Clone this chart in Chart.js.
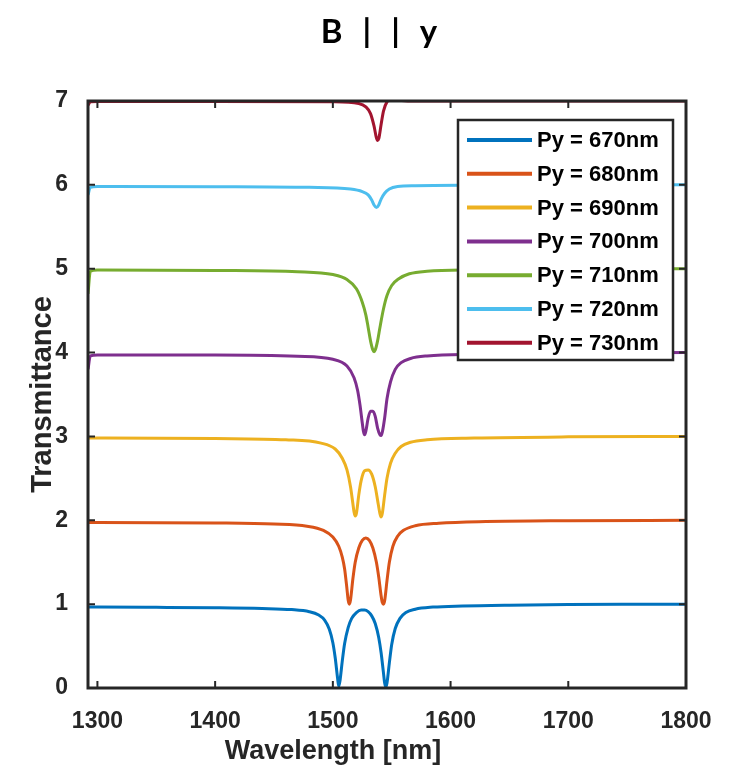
<!DOCTYPE html>
<html>
<head>
<meta charset="utf-8">
<script src="https://cdn.jsdelivr.net/npm/chart.js@4.4.0/dist/chart.umd.min.js"></script>
<style>
  html, body { margin: 0; padding: 0; background: #fff; }
  #wrap { width: 730px; height: 777px; position: relative; }
</style>
</head>
<body>
<div id="wrap"><canvas id="spectra"></canvas></div>
<script>
// Stacked transmittance spectra, each period offset by +1

const SERIES_LABELS = ['Py = 670nm', 'Py = 680nm', 'Py = 690nm', 'Py = 700nm', 'Py = 710nm', 'Py = 720nm', 'Py = 730nm'];
const SERIES_COLORS = ['#0072BD', '#D95319', '#EDB120', '#7E2F8E', '#77AC30', '#4DBEEE', '#A2142F'];
const X_TICKS = [1300, 1400, 1500, 1600, 1700, 1800];
const Y_TICKS = [0, 1, 2, 3, 4, 5, 6, 7];

// [wavelength nm, transmittance + offset]
const py670 = [[1292,0.965],[1300,0.965],[1350,0.962],[1400,0.957],[1440,0.948],[1465,0.935],[1480,0.91],[1488,0.87],[1493,0.81],[1497,0.7],[1500,0.54],[1502,0.36],[1504,0.12],[1505,0.02],[1506,0.08],[1508,0.32],[1510,0.53],[1513,0.72],[1516,0.83],[1520,0.9],[1524,0.93],[1527,0.93],[1530,0.91],[1533,0.86],[1536,0.77],[1539,0.6],[1541,0.42],[1543,0.18],[1544,0.06],[1545,0.01],[1546,0.06],[1548,0.3],[1550,0.52],[1553,0.71],[1557,0.83],[1562,0.9],[1570,0.94],[1585,0.965],[1610,0.978],[1650,0.988],[1700,0.995],[1750,0.998],[1800,1.0]];
const py680 = [[1292,1.975],[1300,1.975],[1400,1.968],[1450,1.955],[1478,1.93],[1492,1.88],[1500,1.8],[1505,1.69],[1508,1.56],[1510,1.42],[1512,1.18],[1513,1.05],[1514,1.0],[1515,1.05],[1517,1.3],[1519,1.5],[1522,1.67],[1525,1.76],[1528,1.79],[1531,1.76],[1534,1.67],[1537,1.5],[1539,1.32],[1541,1.1],[1542,1.02],[1543,1.0],[1544,1.04],[1546,1.28],[1548,1.5],[1551,1.69],[1555,1.81],[1560,1.88],[1570,1.935],[1590,1.965],[1630,1.985],[1700,1.995],[1800,2.0]];
const py690 = [[1292,2.98],[1300,2.98],[1400,2.975],[1460,2.96],[1490,2.92],[1502,2.85],[1508,2.74],[1512,2.6],[1515,2.4],[1517,2.2],[1518,2.1],[1519,2.05],[1520,2.08],[1522,2.3],[1524,2.47],[1527,2.59],[1530,2.6],[1533,2.55],[1536,2.4],[1538,2.24],[1540,2.08],[1541,2.04],[1542,2.08],[1544,2.3],[1546,2.5],[1549,2.68],[1553,2.8],[1558,2.88],[1566,2.93],[1580,2.96],[1620,2.98],[1700,2.995],[1800,3.0]];
const py700 = [[1292,3.8],[1294,3.96],[1300,3.97],[1400,3.97],[1470,3.955],[1500,3.92],[1512,3.84],[1518,3.7],[1521,3.55],[1523,3.38],[1525,3.16],[1526,3.06],[1527,3.02],[1528,3.06],[1530,3.22],[1532,3.3],[1534,3.3],[1536,3.24],[1538,3.1],[1540,3.02],[1541,3.01],[1542,3.05],[1544,3.22],[1546,3.45],[1549,3.65],[1553,3.8],[1558,3.88],[1566,3.93],[1580,3.96],[1620,3.98],[1700,3.99],[1800,4.0]];
const py710 = [[1292,4.7],[1294,4.97],[1300,4.985],[1400,4.98],[1470,4.965],[1500,4.93],[1512,4.87],[1520,4.76],[1525,4.6],[1528,4.45],[1530,4.3],[1532,4.14],[1534,4.03],[1535,4.01],[1536,4.03],[1538,4.14],[1540,4.3],[1543,4.52],[1546,4.68],[1550,4.8],[1556,4.88],[1565,4.94],[1580,4.97],[1620,4.985],[1700,4.995],[1800,5.0]];
const py720 = [[1292,5.88],[1294,5.97],[1300,5.98],[1400,5.978],[1480,5.97],[1515,5.95],[1525,5.92],[1530,5.88],[1533,5.82],[1535,5.76],[1537,5.73],[1539,5.76],[1541,5.83],[1544,5.9],[1548,5.95],[1555,5.98],[1570,5.99],[1620,5.995],[1800,6.0]];
const py730 = [[1292,6.95],[1294,6.99],[1300,6.995],[1400,6.995],[1500,6.99],[1522,6.97],[1528,6.93],[1532,6.85],[1535,6.7],[1537,6.56],[1538,6.53],[1539,6.55],[1541,6.72],[1543,6.88],[1546,6.99],[1550,7.02],[1556,7.01],[1570,7.0],[1800,7.0]];

const SERIES = [py670, py680, py690, py700, py710, py720, py730];

const AXIS_COLOR = '#262626';
const FONT = '"Liberation Sans", Arial, sans-serif';

// frame, inward tick marks, titles and boxed legend
const decorations = {
    id: 'decorations',
    afterDatasetsDraw(chart) {
        const ctx = chart.ctx;
        const area = chart.chartArea;
        const xs = chart.scales.x;
        const ys = chart.scales.y;
        ctx.save();

        // inward ticks
        ctx.strokeStyle = AXIS_COLOR;
        ctx.lineWidth = 2;
        X_TICKS.forEach(v => {
            const px = xs.getPixelForValue(v);
            ctx.beginPath();
            ctx.moveTo(px, area.bottom); ctx.lineTo(px, area.bottom - 7);
            ctx.moveTo(px, area.top); ctx.lineTo(px, area.top + 7);
            ctx.stroke();
        });
        Y_TICKS.forEach(v => {
            const py = ys.getPixelForValue(v);
            ctx.beginPath();
            ctx.moveTo(area.left, py); ctx.lineTo(area.left + 7, py);
            ctx.moveTo(area.right, py); ctx.lineTo(area.right - 7, py);
            ctx.stroke();
        });

        // box
        ctx.lineWidth = 3;
        ctx.strokeRect(area.left, area.top, area.right - area.left, area.bottom - area.top);

        // legend
        const lx = area.right - 228, ly = area.top + 19, lw = 215, lh = 240;
        ctx.fillStyle = '#fff';
        ctx.fillRect(lx, ly, lw, lh);
        ctx.lineWidth = 2.5;
        ctx.strokeStyle = AXIS_COLOR;
        ctx.strokeRect(lx, ly, lw, lh);
        ctx.font = 'bold 22px ' + FONT;
        ctx.textBaseline = 'middle';
        ctx.textAlign = 'left';
        SERIES_LABELS.forEach((label, i) => {
            const yy = ly + 20 + i * 33.8;
            ctx.strokeStyle = SERIES_COLORS[i];
            ctx.lineWidth = 4;
            ctx.beginPath();
            ctx.moveTo(lx + 9, yy); ctx.lineTo(lx + 74, yy);
            ctx.stroke();
            ctx.fillStyle = '#000';
            ctx.fillText(label, lx + 79, yy + 1);
        });

        // titles
        ctx.fillStyle = '#000';
        ctx.textAlign = 'center';
        ctx.font = 'bold 33px Lato, ' + FONT;
        ctx.letterSpacing = '6px';
        ctx.fillText('B | | y', 382, 32);
        ctx.letterSpacing = '0px';

        ctx.fillStyle = AXIS_COLOR;
        ctx.font = 'bold 27px ' + FONT;
        ctx.fillText('Wavelength [nm]', 333, 752);
        ctx.font = 'bold 29px ' + FONT;
        ctx.translate(43, (area.top + area.bottom) / 2);
        ctx.rotate(-Math.PI / 2);
        ctx.fillText('Transmittance', 0, 0);
        ctx.restore();
    }
};

new Chart(document.getElementById('spectra'), {
    type: 'line',
    data: {
        datasets: SERIES.map((pts, i) => ({
            label: SERIES_LABELS[i],
            data: pts.map(p => ({ x: p[0], y: p[1] })),
            borderColor: SERIES_COLORS[i],
            borderWidth: 3,
            pointRadius: 0,
            fill: false,
            cubicInterpolationMode: 'monotone'
        }))
    },
    options: {
        responsive: true,
        maintainAspectRatio: false,
        animation: false,
        events: [],
        layout: { padding: { left: 0, right: 44, top: 101, bottom: 0 } },
        plugins: {
            legend: { display: false },
            title: { display: false },
            tooltip: { enabled: false }
        },
        scales: {
            x: {
                type: 'linear',
                min: 1292,
                max: 1800,
                afterBuildTicks: scale => { scale.ticks = X_TICKS.map(v => ({ value: v })); },
                afterFit: scale => { scale.height = 89; },
                grid: { display: false },
                border: { display: false },
                ticks: {
                    padding: 12,
                    maxRotation: 0,
                    color: AXIS_COLOR,
                    font: { family: FONT, size: 23, weight: 'bold' },
                    callback: v => String(v)
                }
            },
            y: {
                min: 0,
                max: 7,
                afterBuildTicks: scale => { scale.ticks = Y_TICKS.map(v => ({ value: v })); },
                afterFit: scale => { scale.width = 88; },
                grid: { display: false },
                border: { display: false },
                ticks: {
                    padding: 12,
                    color: AXIS_COLOR,
                    font: { family: FONT, size: 23, weight: 'bold' }
                }
            }
        }
    },
    plugins: [decorations]
});
</script>
</body>
</html>
